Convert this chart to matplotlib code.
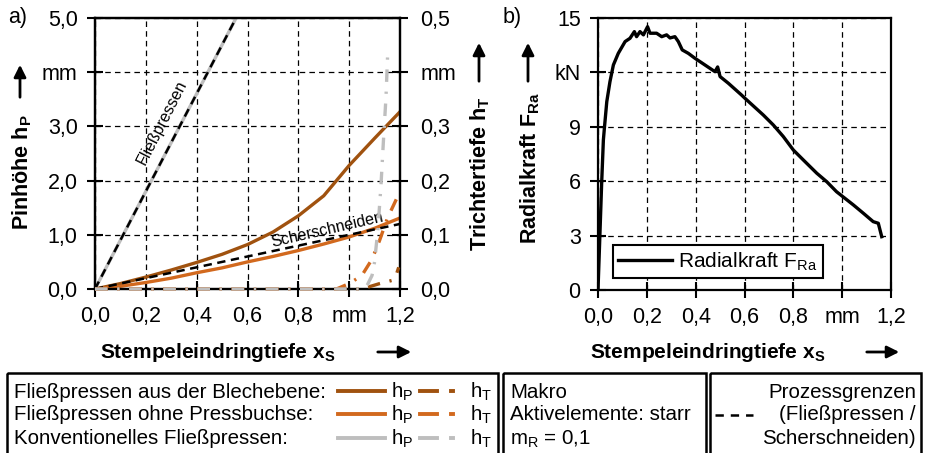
import matplotlib
matplotlib.use('Agg')
import matplotlib.pyplot as plt
from matplotlib.patches import Rectangle, FancyArrowPatch
from matplotlib.lines import Line2D

plt.rcParams['font.family'] = ['Liberation Sans', 'DejaVu Sans']
plt.rcParams['mathtext.fontset'] = 'custom'
plt.rcParams['mathtext.rm'] = 'Liberation Sans'
plt.rcParams['mathtext.bf'] = 'Liberation Sans:bold'
plt.rcParams['mathtext.it'] = 'Liberation Sans:italic'
plt.rcParams['lines.scale_dashes'] = False

# --- data, panel a) ---
x_hp = [0, 0.1, 0.2, 0.3, 0.4, 0.5, 0.6, 0.7, 0.8, 0.9, 1.0, 1.1, 1.2]
hp_blech = [0, 0.1, 0.22, 0.35, 0.49, 0.64, 0.82, 1.05, 1.35, 1.72, 2.28, 2.78, 3.27]
hp_ohne = [0, 0.05, 0.12, 0.2, 0.3, 0.39, 0.5, 0.6, 0.71, 0.83, 0.96, 1.12, 1.31]
x_hp_konv = [0, 0.555]
hp_konv = [0, 5.0]

x_ht_blech = [0, 1.05, 1.12, 1.17, 1.185, 1.195]
ht_blech = [0, 0, 0.01, 0.016, 0.026, 0.04]
x_ht_ohne = [0, 0.95, 1.0, 1.05, 1.09, 1.12, 1.15, 1.18, 1.195]
ht_ohne = [0, 0, 0.01, 0.025, 0.055, 0.09, 0.13, 0.16, 0.175]
x_ht_konv = [0, 1.04, 1.07, 1.09, 1.10, 1.113, 1.125, 1.135, 1.145, 1.152]
ht_konv = [0, 0, 0.006, 0.025, 0.05, 0.11, 0.19, 0.275, 0.355, 0.44]

x_grenze_fp = [0, 0.555]
y_grenze_fp = [0, 5.0]
x_grenze_ss = [0, 1.2]
y_grenze_ss = [0, 1.2]

# --- data, panel b) ---
x_fra = [0, 0.001, 0.008, 0.015, 0.022, 0.026, 0.036, 0.049, 0.063, 0.083, 0.111,
         0.131, 0.149, 0.158, 0.172, 0.186, 0.203, 0.213, 0.24, 0.261, 0.281, 0.295,
         0.315, 0.329, 0.345, 0.37, 0.397, 0.438, 0.479, 0.49, 0.5, 0.534, 0.588,
         0.602, 0.677, 0.718, 0.759, 0.8, 0.841, 0.896, 0.937, 0.977, 1.011, 1.046,
         1.087, 1.127, 1.148, 1.162]
fra = [0, 0.38, 3.13, 5.9, 8.27, 8.9, 10.39, 11.49, 12.41, 13.05, 13.7,
       13.88, 14.25, 13.97, 14.25, 14.07, 14.52, 14.16, 14.16, 13.97, 14.07, 13.9,
       13.97, 13.7, 13.24, 13.05, 12.78, 12.41, 12.04, 12.3, 11.77, 11.4, 10.75,
       10.57, 9.65, 9.1, 8.46, 7.72, 7.17, 6.44, 5.97, 5.42, 5.06, 4.69,
       4.23, 3.77, 3.68, 2.94]

xticks = [0, 0.2, 0.4, 0.6, 0.8, 1.0, 1.2]
xticklabels = ['0,0', '0,2', '0,4', '0,6', '0,8', 'mm', '1,2']
yticks_a = [0, 1, 2, 3, 4, 5]
yticklabels_a = ['0,0', '1,0', '2,0', '3,0', 'mm', '5,0']
yticks_at = [0, 0.1, 0.2, 0.3, 0.4, 0.5]
yticklabels_at = ['0,0', '0,1', '0,2', '0,3', 'mm', '0,5']
yticks_b = [0, 3, 6, 9, 12, 15]
yticklabels_b = ['0', '3', '6', '9', 'kN', '15']

c_blech = '#A0520F'
c_ohne = '#D2691E'
c_konv = '#BEBEBE'
dashdot = (0, (9, 7, 1.6, 7))
W, H = 925, 453
fs = 15.5

fig = plt.figure(figsize=(W / 100, H / 100), dpi=100)


def style_axes(ax):
    for s in ax.spines.values():
        s.set_linewidth(1.6)
    ax.tick_params(direction='inout', length=11, width=1.5, labelsize=fs, pad=7)


def arrow(x0, y0, x1, y1):
    fig.add_artist(FancyArrowPatch(
        (x0 / W, 1 - y0 / H), (x1 / W, 1 - y1 / H), transform=fig.transFigure,
        arrowstyle='-|>', mutation_scale=18, lw=2, color='black'))


# panel a)
ax1 = fig.add_axes([95 / W, 164 / H, 305 / W, 271 / H])
ax1.set_axisbelow(True)
ax1.grid(True, ls=(0, (4, 3)), color='black', lw=0.9)
ax1.plot(x_hp_konv, hp_konv, color=c_konv, lw=2.4)
ax1.plot(x_hp, hp_blech, color=c_blech, lw=2.4)
ax1.plot(x_hp, hp_ohne, color=c_ohne, lw=2.4)
ax1.plot(x_grenze_fp, y_grenze_fp, color='black', lw=1.8, ls=(0, (6, 4)))
ax1.plot(x_grenze_ss, y_grenze_ss, color='black', lw=1.8, ls=(0, (6, 4)))
ax1.set_xlim(0, 1.2)
ax1.set_ylim(0, 5)
ax1.set_xticks(xticks, xticklabels)
ax1.set_yticks(yticks_a, yticklabels_a)
style_axes(ax1)
ax1.text(0.262, 3.08, 'Fließpressen', rotation=63, ha='center', va='center',
         rotation_mode='anchor', fontsize=11.5)
ax1.text(0.913, 1.1, 'Scherschneiden', rotation=13, ha='center', va='center',
         rotation_mode='anchor', fontsize=11.5)

ax1t = ax1.twinx()
ax1t.plot(x_ht_blech, ht_blech, color=c_blech, lw=2.4, ls=dashdot, zorder=3, clip_on=False)
ax1t.plot(x_ht_ohne, ht_ohne, color=c_ohne, lw=2.4, ls=dashdot, zorder=3, clip_on=False)
ax1t.plot(x_ht_konv, ht_konv, color=c_konv, lw=2.4, ls=dashdot, zorder=3, clip_on=False)
ax1t.set_ylim(0, 0.5)
ax1t.set_yticks(yticks_at, yticklabels_at)
style_axes(ax1t)
ax1t.tick_params(pad=9)

# panel b)
ax2 = fig.add_axes([598 / W, 163 / H, 293 / W, 272 / H])
ax2.set_axisbelow(True)
ax2.grid(True, ls=(0, (4, 3)), color='black', lw=0.9)
ax2.plot(x_fra, fra, color='black', lw=2.4, label=r'Radialkraft F$_\mathrm{Ra}$')
ax2.set_xlim(0, 1.2)
ax2.set_ylim(0, 15)
ax2.set_xticks(xticks, xticklabels)
ax2.set_yticks(yticks_b, yticklabels_b)
style_axes(ax2)
leg = ax2.legend(loc='lower left', bbox_to_anchor=(0.05, 0.045), borderaxespad=0,
                 fontsize=15, fancybox=False, framealpha=1, edgecolor='black',
                 handlelength=2.6, borderpad=0.25, handletextpad=0.3)
leg.get_frame().set_linewidth(1.5)

# panel labels and axis titles
fig.text(8 / W, 1 - 18 / H, 'a)', fontsize=fs, va='center')
fig.text(503 / W, 1 - 18 / H, 'b)', fontsize=fs, va='center')
fig.text(22 / W, 1 - 172 / H, r'Pinhöhe h$_\mathbf{P}$', rotation=90, fontsize=15.5,
         fontweight='bold', ha='center', va='center')
arrow(20, 100, 20, 62)
fig.text(480 / W, 1 - 174 / H, r'Trichtertiefe h$_\mathbf{T}$', rotation=90, fontsize=15.5,
         fontweight='bold', ha='center', va='center')
arrow(479, 84, 479, 40)
fig.text(530 / W, 1 - 168 / H, r'Radialkraft F$_\mathbf{Ra}$', rotation=90, fontsize=15.5,
         fontweight='bold', ha='center', va='center')
arrow(528, 84, 528, 40)
fig.text(100 / W, 1 - 352 / H, r'Stempeleindringtiefe x$_\mathbf{S}$', fontsize=15,
         fontweight='bold', ha='left', va='center')
fig.text(590 / W, 1 - 352 / H, r'Stempeleindringtiefe x$_\mathbf{S}$', fontsize=15,
         fontweight='bold', ha='left', va='center')
arrow(375, 352, 414, 352)
arrow(864, 352, 902, 352)

# bottom legend boxes
axl = fig.add_axes([0, 0, 1, 1])
axl.set_xlim(0, W)
axl.set_ylim(H, 0)
axl.axis('off')
for x0, x1 in [(7, 498), (503, 706), (710, 921)]:
    axl.add_patch(Rectangle((x0, 373), x1 - x0, 100, fill=False, lw=1.8, ec='black'))

rows = [392, 415, 439]
names = ['Fließpressen aus der Blechebene:', 'Fließpressen ohne Pressbuchse:',
         'Konventionelles Fließpressen:']
colors = [c_blech, c_ohne, c_konv]
lfs = 14.8
for y, name, c in zip(rows, names, colors):
    axl.text(14, y, name, fontsize=lfs, va='center')
    axl.add_line(Line2D([338, 385], [y - 1, y - 1], color=c, lw=2.8))
    axl.text(391, y, r'h$_\mathrm{P}$', fontsize=lfs, va='center')
    axl.add_line(Line2D([420, 437], [y - 1, y - 1], color=c, lw=2.8))
    axl.add_line(Line2D([451, 453], [y - 1, y - 1], color=c, lw=2.8))
    axl.text(470, y, r'h$_\mathrm{T}$', fontsize=lfs, va='center')

for y, t in zip(rows, ['Makro', 'Aktivelemente: starr', r'm$_\mathrm{R}$ = 0,1']):
    axl.text(510, y, t, fontsize=lfs, va='center')
for y, t in zip(rows, ['Prozessgrenzen', '(Fließpressen /', 'Scherschneiden)']):
    axl.text(916, y, t, fontsize=lfs, va='center', ha='right')
axl.add_line(Line2D([715, 753], [rows[1], rows[1]], color='black', lw=1.8, ls=(0, (6, 5))))

fig.savefig('out.png', dpi=100)
